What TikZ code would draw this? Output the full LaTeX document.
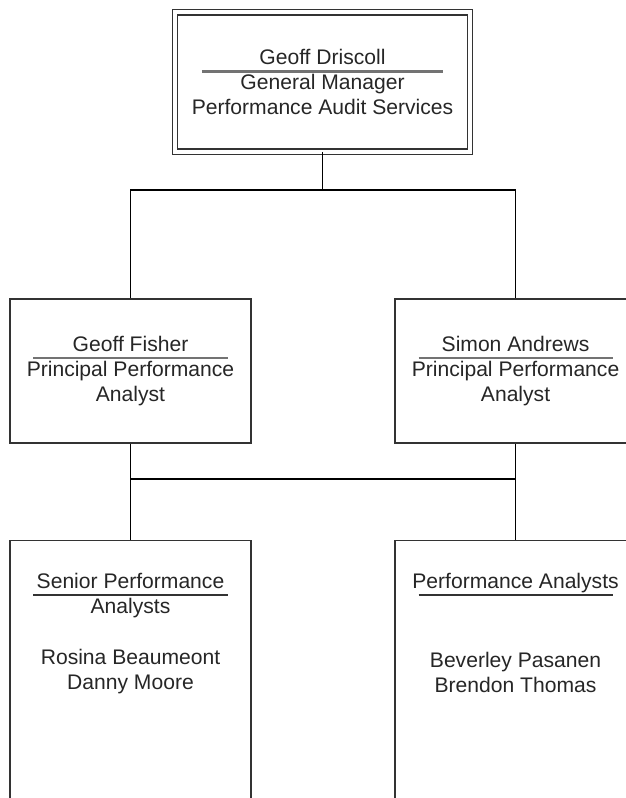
\documentclass[tikz,border=0pt]{standalone}
\usepackage{fontspec}
\setmainfont{Liberation Sans}
\usepackage{xcolor}
\usetikzlibrary{positioning}

\definecolor{barcol}{gray}{0.45}
% name line with a rule drawn under it
\newcommand\namebar[3][barcol]{\ooalign{\hfil#2\hfil\cr\hfil\raisebox{-5.7pt}[0pt][0pt]{\textcolor{#1}{\rule{#3}{1.5pt}}}\hfil\cr}}

\begin{document}
\begin{tikzpicture}[
    x=0.025cm, y=-0.025cm,
    font=\fontsize{15pt}{17.8pt}\selectfont,
    every node/.style={text=black!85},
    head/.style={draw=black!80, double, line width=0.9pt, double distance=3pt, minimum width=7.375cm, minimum height=3.49cm, align=center, inner sep=0pt},
    post/.style={draw=black!80, line width=1.1pt, minimum width=6.025cm, minimum height=3.6cm, align=center, inner sep=0pt},
    team/.style={draw=black!80, line width=1.1pt, minimum width=6.025cm, minimum height=8cm},
    members/.style={align=center, inner sep=0pt},
    link/.style={line width=1.1pt}
]
\useasboundingbox (0,0) rectangle (626,798);
\clip (0,0) rectangle (626,798);

\node[head] (gm) at (322.5,82) {\namebar{Geoff Driscoll}{6.025cm}\\General Manager\\Performance Audit Services};
\node[post] (gf) at (130.5,371) {\namebar{Geoff Fisher}{4.85cm}\\Principal Performance\\Analyst};
\node[post, right=3.56cm of gf] (sa) {\namebar{Simon Andrews}{4.85cm}\\Principal Performance\\Analyst};
\node[team, below=2.4cm of gf] (spa) {};
\node[team, below=2.4cm of sa] (pa) {};
\node[members, below=0.815cm of spa.north] (spatxt) {\namebar[black!80]{Senior Performance}{4.85cm}\\Analysts\\[18.5pt]Rosina Beaumeont\\Danny Moore};
\node[members, below=0.815cm of pa.north] (patxt) {\namebar[black!80]{Performance Analysts}{4.85cm}\\[38.4pt]Beverley Pasanen\\Brendon Thomas};

\coordinate (topbus) at (322.5,190);
\coordinate (midbus) at (322.5,479);
\draw[link] (gm.south) -- (topbus);
\draw[link] (gf.north) |- (topbus) -| (sa.north);
\draw[link] (gf.south) -- (spa.north);
\draw[link] (sa.south) -- (pa.north);
\draw[link] (gf.south |- midbus) -- (sa.south |- midbus);
\end{tikzpicture}
\end{document}
